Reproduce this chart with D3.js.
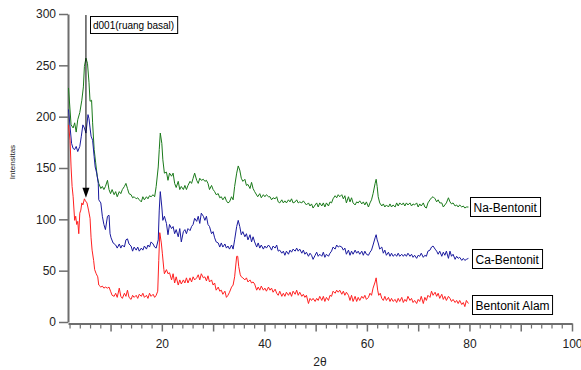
<!DOCTYPE html>
<html>
<head>
<meta charset="utf-8">
<script src="https://cdn.jsdelivr.net/npm/d3@7/dist/d3.min.js"></script>
<style>
  body { margin: 0; background: #fff; }
  svg { display: block; font-family: Arial, "Liberation Sans", sans-serif; }
</style>
</head>
<body>
<div id="chart"></div>
<script>
// XRD patterns, [2theta, intensity]
const naBentonit = [[1.8,228],[2.3,192],[2.7,189],[3.0,194],[3.3,185],[3.6,197],[4.0,204],[4.4,216],[4.7,229],[4.9,249],[5.2,257],[5.5,252],[5.8,233],[6.0,215],[6.3,216],[6.5,194],[6.8,168],[7.1,155],[7.4,142],[7.7,135],[8.1,130],[8.4,132],[8.7,129],[9.0,132],[9.4,138],[9.7,129],[10.0,125],[10.3,129],[10.7,124],[11.0,127],[11.3,122],[11.7,127],[12.0,125],[12.3,129],[12.7,132],[13.0,135],[13.3,130],[13.6,125],[14.0,124],[14.3,121],[14.6,122],[15.0,120],[15.3,121],[15.6,119],[16.0,117],[16.3,122],[16.6,119],[17.0,122],[17.3,120],[17.6,123],[17.9,122],[18.3,124],[18.6,122],[18.9,132],[19.3,151],[19.5,168],[19.7,184],[20.0,174],[20.2,158],[20.5,145],[20.9,146],[21.2,138],[21.5,145],[21.9,142],[22.2,145],[22.5,135],[22.8,131],[23.2,137],[23.5,129],[23.8,132],[24.2,129],[24.5,133],[24.8,129],[25.1,133],[25.5,137],[25.8,135],[26.1,140],[26.4,145],[26.8,138],[27.1,135],[27.4,140],[27.7,138],[28.1,139],[28.4,137],[28.7,138],[29.0,135],[29.3,129],[29.7,133],[30.0,129],[30.3,127],[30.6,124],[31.0,125],[31.3,121],[31.6,122],[31.9,119],[32.3,122],[32.6,118],[32.9,116],[33.2,117],[33.6,122],[33.9,119],[34.2,132],[34.6,145],[34.9,152],[35.2,148],[35.5,140],[35.8,137],[36.2,139],[36.5,133],[36.8,134],[37.2,130],[37.5,136],[37.8,130],
  [38.1,127],[38.7,122],[39.1,125],[39.4,121],[39.8,124],[40.1,122],[40.4,124],[40.8,122],[41.1,122],[41.4,119],[41.7,121],[42.1,120],[42.4,122],[42.7,117],[43.0,116],[43.4,119],[43.7,116],[44.0,118],[44.3,116],[44.7,119],[45.0,117],[45.3,120],[45.6,116],[46.0,117],[46.3,119],[46.6,116],[46.9,117],[47.3,116],[47.6,118],[47.9,116],[48.2,114],[48.6,116],[48.9,113],[49.2,115],[49.5,111],[49.9,114],[50.2,116],[50.5,112],[50.8,116],[51.2,113],[51.5,116],[51.8,112],[52.1,116],[52.5,113],[52.8,117],[53.1,116],[53.4,120],[53.8,123],[54.1,121],[54.4,124],[54.7,122],[55.1,124],[55.4,120],[55.7,123],[56.0,116],[56.4,122],[56.7,117],[57.0,121],[57.3,116],
  [57.7,114],[58.0,117],[58.3,116],[58.6,118],[59.0,115],[59.3,117],[59.6,114],[59.9,117],[60.3,112],[60.6,116],[60.9,119],[61.2,125],[61.6,135],[61.8,139],[62.0,132],[62.2,122],[62.5,116],[62.9,113],[63.2,115],[63.5,112],[63.8,114],[64.2,112],[64.5,115],[64.8,112],[65.1,114],[65.5,112],[65.8,116],[66.1,113],[66.4,116],[66.8,114],[67.1,116],[67.4,113],[67.7,116],[68.0,114],[68.4,116],[68.7,113],[69.0,115],[69.3,114],[69.7,116],[70.0,112],[70.3,115],[70.6,113],[71.0,116],[71.3,112],[71.6,111],[71.9,116],[72.3,119],[72.6,121],[72.9,122],[73.3,120],[73.6,117],[73.9,119],[74.2,116],[74.6,116],[74.9,112],[75.2,114],[75.5,116],[75.9,121],[76.2,117],[76.5,115],[76.8,116],[77.2,113],[77.5,114],[77.8,112],[78.1,114],[78.5,112],[78.8,113],[79.1,111],[79.4,112],[79.8,112]];

const caBentonit = [[1.8,207],[2.1,190],[2.4,174],[2.7,169],[3.0,168],[3.3,171],[3.6,166],[4.0,171],[4.3,181],[4.6,192],[4.9,189],[5.2,184],[5.6,202],[5.8,198],[6.0,189],[6.2,181],[6.5,177],[6.8,161],[7.0,151],[7.3,145],[7.6,135],[7.7,119],[8.1,116],[8.4,103],[8.7,95],[9.0,90],[9.4,103],[9.7,104],[9.9,86],[10.1,82],[10.5,77],[11.0,75],[11.3,72],[11.7,76],[12.0,72],[12.3,75],[12.7,73],[13.0,80],[13.3,81],[13.6,76],[14.0,74],[14.3,69],[14.6,73],[15.0,70],[15.3,73],[15.6,69],[16.0,72],[16.3,70],[16.6,74],[17.0,71],[17.3,75],[17.6,73],[17.9,78],[18.3,76],[18.6,73],[18.9,72],[19.3,80],[19.5,109],[19.7,127],[20.0,112],[20.2,99],[20.5,103],[20.9,96],[21.2,85],[21.5,95],[21.9,91],[22.2,93],[22.5,86],[22.8,90],[23.2,83],[23.5,91],[23.8,78],[24.2,88],[24.5,90],[24.8,86],[25.1,91],[25.5,89],[25.8,93],[26.1,95],[26.4,101],[26.8,98],[27.1,103],[27.4,96],[27.7,106],[28.1,103],[28.4,99],[28.7,103],[29.0,95],[29.3,93],[29.7,86],[30.0,88],[30.3,82],[30.6,78],[31.0,77],[31.3,73],[31.6,77],[31.9,73],[32.3,76],[32.6,72],[32.9,74],[33.2,71],[33.6,75],[33.9,71],[34.2,80],[34.6,93],[34.9,99],[35.2,93],[35.5,85],[35.8,88],[36.2,83],[36.5,86],[36.8,80],[37.2,85],[37.5,78],[37.8,83],
  [38.1,78],[38.5,73],[38.8,77],[39.1,72],[39.4,75],[39.8,71],[40.1,74],[40.4,72],[40.8,75],[41.1,73],[41.4,70],[41.7,74],[42.1,72],[42.4,75],[42.7,69],[43.0,70],[43.4,67],[43.7,69],[44.0,65],[44.3,69],[44.7,66],[45.0,70],[45.3,68],[45.6,71],[46.0,69],[46.3,72],[46.6,69],[46.9,71],[47.3,67],[47.6,70],[47.9,66],[48.2,68],[48.6,64],[48.9,67],[49.2,65],[49.5,61],[49.9,65],[50.2,68],[50.5,64],[50.8,66],[51.2,64],[51.5,68],[51.8,63],[52.1,66],[52.5,64],[52.8,67],[53.1,69],[53.4,73],[53.8,71],[54.1,75],[54.4,73],[54.7,74],[55.1,73],[55.4,70],[55.7,72],[56.0,66],[56.4,70],[56.7,65],[57.0,69],[57.3,66],
  [57.7,70],[58.0,67],[58.3,69],[58.6,66],[59.0,69],[59.3,65],[59.6,69],[59.9,66],[60.3,65],[60.6,68],[60.9,70],[61.2,75],[61.6,82],[61.8,85],[62.0,80],[62.2,77],[62.5,71],[62.9,73],[63.2,67],[63.5,70],[63.8,65],[64.2,68],[64.5,64],[64.8,67],[65.1,64],[65.5,66],[65.8,64],[66.1,67],[66.4,64],[66.8,66],[67.1,64],[67.4,66],[67.7,64],[68.0,67],[68.4,64],[68.7,66],[69.0,63],[69.3,65],[69.7,62],[70.0,65],[70.3,64],[70.6,67],[71.0,63],[71.3,65],[71.6,64],[71.9,69],[72.3,70],[72.6,73],[72.9,74],[73.3,71],[73.6,69],[73.9,66],[74.2,69],[74.6,64],[74.9,68],[75.2,65],[75.5,69],[75.9,62],[76.2,69],[76.5,64],[76.8,66],[77.2,61],[77.5,64],[77.8,62],[78.1,63],[78.5,60],[78.8,62],[79.1,60],[79.4,61],[79.8,62]];

const bentonitAlam = [[1.8,192],[2.1,177],[2.3,151],[2.5,132],[2.7,122],[3.0,99],[3.2,103],[3.4,95],[3.6,98],[3.8,86],[4.0,106],[4.2,109],[4.4,116],[4.6,114],[4.9,120],[5.1,118],[5.4,116],[5.7,109],[6.0,101],[6.2,82],[6.4,70],[6.7,60],[6.9,51],[7.2,47],[7.5,44],[7.7,36],[8.1,34],[8.4,35],[8.7,33],[9.0,34],[9.4,33],[9.7,34],[10.0,30],[10.3,26],[10.7,25],[11.0,28],[11.3,24],[11.7,33],[12.0,25],[12.3,23],[12.7,28],[13.0,25],[13.3,31],[13.6,24],[14.0,22],[14.3,26],[14.6,24],[15.0,26],[15.3,23],[15.6,27],[16.0,25],[16.3,28],[16.6,24],[17.0,26],[17.3,23],[17.6,28],[17.9,25],[18.3,27],[18.6,24],[18.9,26],[19.2,30],[19.4,60],[19.6,87],[19.9,77],[20.1,67],[20.4,51],[20.5,47],[20.9,51],[21.2,47],[21.5,48],[21.9,41],[22.2,47],[22.5,38],[22.8,44],[23.2,36],[23.5,41],[23.8,37],[24.2,41],[24.5,38],[24.8,43],[25.1,38],[25.5,43],[25.8,39],[26.1,44],[26.4,41],[26.8,43],[27.1,46],[27.4,41],[27.7,47],[28.1,43],[28.4,44],[28.7,40],[29.0,45],[29.3,39],[29.7,41],[30.0,36],[30.3,38],[30.6,31],[31.0,34],[31.3,30],[31.6,31],[31.9,27],[32.3,30],[32.6,24],[32.9,26],[33.2,29],[33.6,34],[33.9,36],[34.2,44],[34.6,64],[34.8,64],[35.0,54],[35.3,46],[35.5,44],[35.8,43],[36.2,41],[36.5,43],[36.8,39],[37.2,41],[37.5,38],[37.8,39],
  [38.1,37],[38.5,31],[38.8,34],[39.1,31],[39.4,35],[39.8,31],[40.1,33],[40.4,30],[40.8,34],[41.1,31],[41.4,33],[41.7,29],[42.1,32],[42.4,28],[42.7,26],[43.0,30],[43.4,25],[43.7,28],[44.0,25],[44.3,29],[44.7,26],[45.0,29],[45.3,25],[45.6,30],[46.0,27],[46.3,31],[46.6,26],[46.9,29],[47.3,25],[47.6,27],[47.9,24],[48.2,26],[48.6,18],[48.9,23],[49.2,21],[49.5,23],[49.9,20],[50.2,23],[50.5,21],[50.8,25],[51.2,21],[51.5,25],[51.8,20],[52.1,24],[52.5,21],[52.8,26],[53.1,25],[53.4,30],[53.8,28],[54.1,31],[54.4,29],[54.7,31],[55.1,27],[55.4,30],[55.7,26],[56.0,29],[56.4,26],[56.7,21],[57.0,26],[57.3,20],
  [57.7,25],[58.0,20],[58.3,24],[58.6,21],[59.0,25],[59.3,23],[59.6,26],[59.9,22],[60.3,24],[60.6,28],[60.9,26],[61.2,33],[61.6,39],[61.8,43],[62.1,31],[62.3,26],[62.6,28],[62.9,23],[63.2,21],[63.5,25],[63.8,21],[64.2,24],[64.5,20],[64.8,23],[65.1,20],[65.5,22],[65.8,19],[66.1,23],[66.4,20],[66.8,24],[67.1,19],[67.4,22],[67.7,20],[68.0,25],[68.4,21],[68.7,23],[69.0,19],[69.3,21],[69.7,18],[70.0,22],[70.3,20],[70.6,25],[71.0,18],[71.3,24],[71.6,21],[71.9,26],[72.3,24],[72.6,30],[72.9,26],[73.3,29],[73.6,25],[73.9,28],[74.2,23],[74.6,27],[74.9,22],[75.2,25],[75.5,21],[75.9,25],[76.2,23],[76.5,20],[76.8,22],[77.2,19],[77.5,21],[77.8,18],[78.1,21],[78.5,17],[78.8,19],[79.1,15],[79.4,21],[79.8,18]];

const seriesNames = ['Na-Bentonit', 'Ca-Bentonit', 'Bentonit Alam'];
const seriesColors = ['#1a7a1a', '#1a1a9e', '#ff2020'];
const yTicks = [0, 50, 100, 150, 200, 250, 300];
const xLabelTicks = [20, 40, 60, 80, 100];
const annotation = { text: 'd001(ruang basal)', at: 5.2, top: 299, tip: 121 };

const width = 581, height = 370;

const svg = d3.select('#chart')
  .append('svg')
  .attr('width', width)
  .attr('height', height);

// Scales
const x = d3.scaleLinear().domain([1.7, 100]).range([68, 572]);
const y = d3.scaleLinear().domain([0, 300]).range([322, 14]);

const axisColor = '#6e6e6e';

// Y axis
const yAxis = svg.append('g')
  .attr('transform', 'translate(68,0)')
  .call(d3.axisLeft(y).tickValues(yTicks).tickSize(9).tickPadding(3).tickSizeOuter(0));
yAxis.select('.domain').attr('stroke', axisColor).attr('stroke-width', 2);
yAxis.selectAll('.tick line').attr('stroke', axisColor).attr('stroke-width', 1.5);
yAxis.selectAll('.tick text').attr('font-size', 12).attr('fill', '#222')
  .attr('font-family', 'Arial, "Liberation Sans", sans-serif');

// X axis: minor ticks every 2, major every 10, labels every 20
const xMinor = svg.append('g')
  .attr('transform', 'translate(0,323.5)')
  .call(d3.axisBottom(x).tickValues(d3.range(2, 101, 2).filter(v => v % 10 !== 0)).tickSize(5).tickFormat('').tickSizeOuter(0));
xMinor.select('.domain').attr('stroke', axisColor).attr('stroke-width', 2);
xMinor.selectAll('.tick line').attr('stroke', axisColor).attr('stroke-width', 1.2);

const xMajor = svg.append('g')
  .attr('transform', 'translate(0,323.5)')
  .call(d3.axisBottom(x).tickValues(d3.range(10, 101, 10)).tickSize(8).tickPadding(8)
    .tickFormat(v => xLabelTicks.includes(v) ? v : '').tickSizeOuter(0));
xMajor.select('.domain').remove();
xMajor.selectAll('.tick line').attr('stroke', axisColor).attr('stroke-width', 1.5);
xMajor.selectAll('.tick text').attr('font-size', 12).attr('fill', '#222')
  .attr('font-family', 'Arial, "Liberation Sans", sans-serif');

// Axis titles
svg.append('text')
  .attr('x', 320)
  .attr('y', 366)
  .attr('text-anchor', 'middle')
  .attr('font-size', 12)
  .attr('fill', '#222')
  .text('2θ');

svg.append('text')
  .attr('transform', 'translate(15,162) rotate(-90)')
  .attr('text-anchor', 'middle')
  .attr('font-size', 8)
  .attr('fill', '#222')
  .text('Intensitas');

// Lines
const line = d3.line()
  .x(d => x(d[0]))
  .y(d => y(d[1]));

[naBentonit, caBentonit, bentonitAlam].forEach((data, i) => {
  svg.append('path')
    .datum(data)
    .attr('d', line)
    .attr('fill', 'none')
    .attr('stroke', seriesColors[i])
    .attr('stroke-width', 1)
    .attr('stroke-linejoin', 'round');
});

// Annotation arrow
const ax = x(annotation.at);
svg.append('line')
  .attr('x1', ax).attr('x2', ax)
  .attr('y1', y(annotation.top)).attr('y2', y(annotation.tip) - 8)
  .attr('stroke', '#000').attr('stroke-width', 1);
svg.append('path')
  .attr('d', `M${ax - 3.5},${y(annotation.tip) - 10} L${ax + 3.5},${y(annotation.tip) - 10} L${ax},${y(annotation.tip)} Z`)
  .attr('fill', '#000');

const annG = svg.append('g');
const annText = annG.append('text')
  .attr('x', 93)
  .attr('y', 29)
  .attr('font-size', 10)
  .attr('fill', '#000')
  .text(annotation.text);
const ab = annText.node().getBBox();
annG.insert('rect', 'text')
  .attr('x', 90.5).attr('y', 16.5)
  .attr('width', ab.width + 6).attr('height', 17)
  .attr('fill', '#fff').attr('stroke', '#000').attr('stroke-width', 1);

// Series labels
const labelPos = [[470.5, 197.5], [472.5, 249.5], [472.5, 295.5]];
seriesNames.forEach((name, i) => {
  const g = svg.append('g');
  const t = g.append('text')
    .attr('x', labelPos[i][0] + 3)
    .attr('y', labelPos[i][1] + 14.5)
    .attr('font-size', 12)
    .attr('fill', '#000')
    .text(name);
  const b = t.node().getBBox();
  g.insert('rect', 'text')
    .attr('x', labelPos[i][0]).attr('y', labelPos[i][1])
    .attr('width', b.width + 6).attr('height', 19)
    .attr('fill', '#fff').attr('stroke', '#000').attr('stroke-width', 1);
});
</script>
</body>
</html>
